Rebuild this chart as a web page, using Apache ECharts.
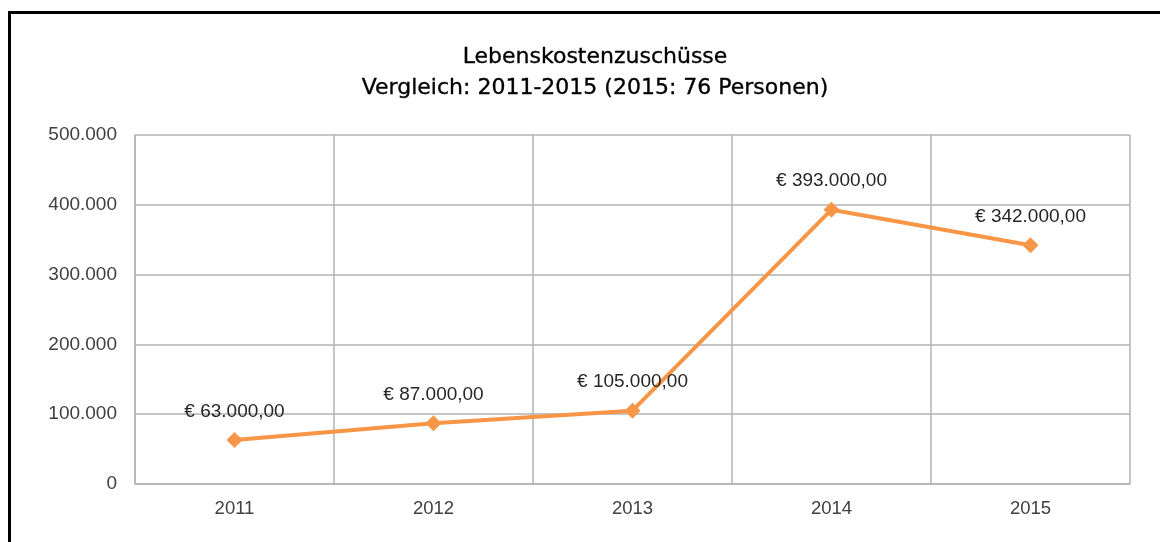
<!DOCTYPE html>
<html>
<head>
<meta charset="utf-8">
<script src="https://cdn.jsdelivr.net/npm/echarts@6/dist/echarts.min.js"></script>
<style>
html, body { margin: 0; padding: 0; background: #fff; }
#frame { position: absolute; left: 8px; top: 11px; width: 1160px; height: 540px;
  border-left: 3px solid #000; border-top: 3px solid #000; }
#chart { position: absolute; left: 0; top: 0; width: 1160px; height: 542px; }
</style>
</head>
<body>
<div id="frame"></div>
<div id="chart"></div>
<script>
// Jahre und Beträge
var years = ['2011', '2012', '2013', '2014', '2015'];
var amounts = [63000, 87000, 105000, 393000, 342000];
var titleLines = ['Lebenskostenzuschüsse', 'Vergleich: 2011-2015 (2015: 76 Personen)'];

// Tausenderpunkt
function fmtThousands(v) {
	return String(v).replace(/\B(?=(\d{3})+(?!\d))/g, '.');
}

var myChart = echarts.init(document.getElementById('chart'));

var option = {
	animation : false,
	title : {
		text : titleLines.join('\n'),
		left : 590,
		textAlign : 'center',
		top : 37,
		textStyle : {
			fontFamily : 'DejaVu Sans',
			fontSize : 22,
			fontWeight : 'normal',
			color : '#000',
			lineHeight : 31,
			textBorderColor : '#000',
			textBorderWidth : 0.35
		}
	},
	grid : {
		left : 135,
		right : 30,
		top : 135,
		bottom : 58
	},
	xAxis : {
		type : 'category',
		data : years,
		boundaryGap : true,
		axisLine : { lineStyle : { color : '#b3b3b3', width : 1.5 } },
		axisTick : { show : false },
		splitLine : { show : true, lineStyle : { color : '#b3b3b3', width : 1.5 } },
		axisLabel : {
			color : '#404040',
			fontFamily : 'Liberation Sans',
			fontSize : 18.5,
			margin : 15
		}
	},
	yAxis : {
		type : 'value',
		min : 0,
		max : 500000,
		interval : 100000,
		axisLine : { show : true, lineStyle : { color : '#b3b3b3', width : 1.5 } },
		axisTick : { show : false },
		splitLine : { lineStyle : { color : '#b3b3b3', width : 1.5 } },
		axisLabel : {
			color : '#404040',
			fontFamily : 'Liberation Sans',
			fontSize : 19,
			margin : 18,
			formatter : fmtThousands
		}
	},
	series : [ {
		type : 'line',
		data : amounts,
		symbol : 'diamond',
		symbolSize : 16,
		lineStyle : { color : '#F79646', width : 4 },
		itemStyle : { color : '#F79646' },
		label : {
			show : true,
			position : 'top',
			distance : 11,
			color : '#262626',
			fontFamily : 'Liberation Sans',
			fontSize : 19,
			formatter : function(p) {
				return '€ ' + fmtThousands(p.value) + ',00';
			}
		}
	} ]
};

myChart.setOption(option);
</script>
</body>
</html>
